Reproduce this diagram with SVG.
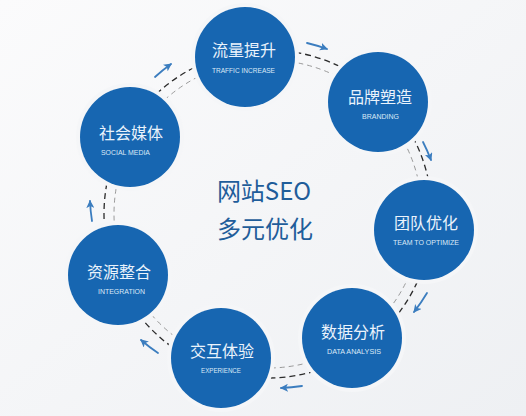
<svg xmlns="http://www.w3.org/2000/svg" width="526" height="416" viewBox="0 0 526 416">
<defs>
<linearGradient id="bg" x1="0" y1="0" x2="1" y2="1">
<stop offset="0" stop-color="#fbfbfc"/>
<stop offset="1" stop-color="#eef0f3"/>
</linearGradient>
<marker id="ah" markerUnits="userSpaceOnUse" markerWidth="9" markerHeight="8" refX="7" refY="4" orient="auto">
<path d="M0,0 L8,4 L0,8 L2,4 z" fill="#3b7dbf"/>
</marker>
</defs>
<style>
.halo{fill:#f5f6f8}
.node{fill:#1766b1}
.cn{font-family:"Noto Sans CJK SC",sans-serif;font-size:16px;fill:#eaf3fc;text-anchor:middle}
.en{font-family:"Liberation Sans","Open Sans",sans-serif;font-size:7.5px;fill:#dbe9f7;text-anchor:middle}
.ctr{font-family:"Noto Sans CJK SC",sans-serif;font-size:24px;fill:#1f5d9a;text-anchor:middle}
.ringo{fill:none;stroke:#2b2b2b;stroke-width:1.3;stroke-dasharray:6 4}
.ringi{fill:none;stroke:#9a9a9a;stroke-width:1;stroke-dasharray:5 4}
.arr{fill:none;stroke:#3b7dbf;stroke-width:1.8;stroke-linecap:round;marker-end:url(#ah)}
</style>
<rect width="526" height="416" fill="url(#bg)"/>
<g id="connectors">
<circle class="ringo" cx="268" cy="214" r="164"/>
<circle class="ringi" cx="268" cy="214" r="154"/>
<path class="arr" d="M307,43 A177,177 0 0 1 327,49"/>
<path class="arr" d="M423,142 A177,177 0 0 1 431,160"/>
<path class="arr" d="M427,293 A177,177 0 0 1 414,312"/>
<path class="arr" d="M302,386 A177,177 0 0 1 281,388"/>
<path class="arr" d="M158,353 A177,177 0 0 1 141,340"/>
<path class="arr" d="M92,221 A177,177 0 0 1 90,201"/>
<path class="arr" d="M155,77 A177,177 0 0 1 171,64"/>
</g>
<g id="center">
<text class="ctr" x="264" y="200">网站SEO</text>
<text class="ctr" x="265" y="238">多元优化</text>
</g>
<g id="n1">
<circle class="halo" cx="245" cy="57" r="54"/>
<circle class="node" cx="245" cy="57" r="50"/>
<text class="cn" x="244" y="56">流量提升</text>
<text class="en" x="243.5" y="73" textLength="63" lengthAdjust="spacingAndGlyphs">TRAFFIC INCREASE</text>
</g>
<g id="n2">
<circle class="halo" cx="378" cy="102" r="54"/>
<circle class="node" cx="378" cy="102" r="50"/>
<text class="cn" x="380" y="103">品牌塑造</text>
<text class="en" x="380.5" y="119" textLength="37" lengthAdjust="spacingAndGlyphs">BRANDING</text>
</g>
<g id="n3">
<circle class="halo" cx="424" cy="230" r="54"/>
<circle class="node" cx="424" cy="230" r="50"/>
<text class="cn" x="426" y="229">团队优化</text>
<text class="en" x="426" y="245" textLength="66" lengthAdjust="spacingAndGlyphs">TEAM TO OPTIMIZE</text>
</g>
<g id="n4">
<circle class="halo" cx="352" cy="338" r="54"/>
<circle class="node" cx="352" cy="338" r="50"/>
<text class="cn" x="353" y="338">数据分析</text>
<text class="en" x="354" y="354" textLength="54" lengthAdjust="spacingAndGlyphs">DATA ANALYSIS</text>
</g>
<g id="n5">
<circle class="halo" cx="221" cy="358" r="54"/>
<circle class="node" cx="221" cy="358" r="50"/>
<text class="cn" x="222" y="357">交互体验</text>
<text class="en" x="221" y="373" textLength="40" lengthAdjust="spacingAndGlyphs">EXPERIENCE</text>
</g>
<g id="n6">
<circle class="halo" cx="118" cy="275" r="54"/>
<circle class="node" cx="118" cy="275" r="50"/>
<text class="cn" x="119" y="278">资源整合</text>
<text class="en" x="121.5" y="294" textLength="47" lengthAdjust="spacingAndGlyphs">INTEGRATION</text>
</g>
<g id="n7">
<circle class="halo" cx="130" cy="137" r="54"/>
<circle class="node" cx="130" cy="137" r="50"/>
<text class="cn" x="131" y="139">社会媒体</text>
<text class="en" x="125.5" y="155" textLength="49" lengthAdjust="spacingAndGlyphs">SOCIAL MEDIA</text>
</g>
</svg>
